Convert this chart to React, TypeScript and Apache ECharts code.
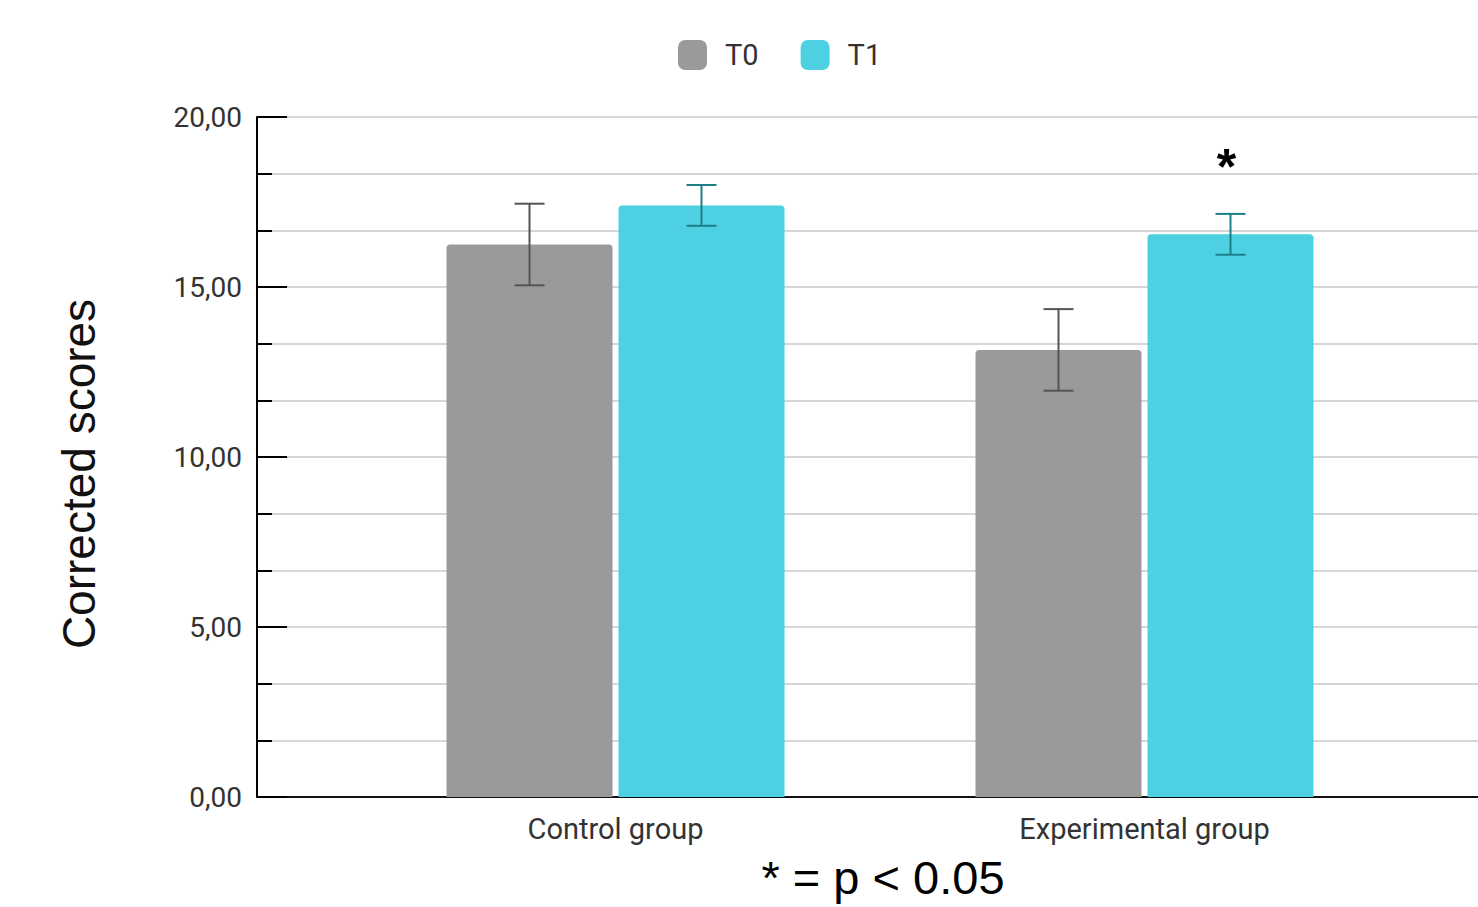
import React, { useEffect, useRef } from "react";
import * as echarts from "echarts";

const categories = ["Control group", "Experimental group"];
const seriesNames = ["T0", "T1"];
const t0Means = [16.25, 13.15];
const t1Means = [17.4, 16.55];
const t0Errors = [1.2, 1.2];
const t1Errors = [0.6, 0.6];
const significant = [false, true];
const yMin = 0;
const yMax = 20;
const yInterval = 5;
const footnote = "* = p < 0.05";
const yTitle = "Corrected scores";

const GRAY = "#9a9a9a";
const CYAN = "#4dd0e1";
const FONT = "Roboto, 'Noto Sans', sans-serif";
const ARIAL = "'Liberation Sans', Arial, sans-serif";
const BAR_W = 166;
const BAR_GAP_PX = 6;

function errorRenderer(offset: number, color: string, sigList: boolean[] | null) {
  return (params: any, api: any) => {
    const idx = api.value(0);
    const mean = api.value(1);
    const err = api.value(2);
    const top = api.coord([idx, mean + err]);
    const bot = api.coord([idx, mean - err]);
    const cx = top[0] + offset;
    const cap = 15;
    const ls = { stroke: color, lineWidth: 2 };
    const children: any[] = [
      { type: "line", shape: { x1: cx, y1: top[1], x2: cx, y2: bot[1] }, style: ls },
      { type: "line", shape: { x1: cx - cap, y1: top[1], x2: cx + cap, y2: top[1] }, style: ls },
      { type: "line", shape: { x1: cx - cap, y1: bot[1], x2: cx + cap, y2: bot[1] }, style: ls },
    ];
    if (sigList && sigList[params.dataIndex]) {
      children.push({
        type: "text",
        style: {
          text: "*",
          x: cx - 4,
          y: top[1] - 47,
          fill: "#000",
          fontSize: 50,
          fontWeight: "bold",
          fontFamily: ARIAL,
          align: "center",
          verticalAlign: "middle",
        },
      });
    }
    return { type: "group", children };
  };
}

export default function App() {
  const ref = useRef<HTMLDivElement>(null);
  useEffect(() => {
    if (!ref.current) return;
    const chart = echarts.init(ref.current, null, { renderer: "svg" });
    const off = BAR_W / 2 + BAR_GAP_PX / 2;
    chart.setOption({
      animation: false,
      backgroundColor: "#fff",
      textStyle: { fontFamily: FONT },
      legend: {
        top: 35,
        left: 673,
        itemWidth: 29,
        itemHeight: 30,
        itemGap: 42,
        data: seriesNames.map((n, i) => ({ name: n, icon: "roundRect", itemStyle: { color: i ? CYAN : GRAY } })),
        textStyle: { fontSize: 29, color: "#333", fontFamily: FONT, padding: [0, 0, 0, 13] },
      },
      grid: [
        { left: 257, right: 0, top: 117, bottom: 110 },
        { left: 351, right: 69, top: 117, bottom: 110 },
      ],
      xAxis: [
        {
          gridIndex: 0,
          type: "value",
          min: 0,
          max: 1,
          axisLine: { show: true, lineStyle: { color: "#111", width: 2 } },
          axisTick: { show: false },
          axisLabel: { show: false },
          splitLine: { show: false },
        },
        {
          gridIndex: 1,
          type: "category",
          data: categories,
          axisLine: { show: false },
          axisTick: { show: false },
          axisLabel: { fontSize: 29, color: "#333", margin: 17, fontFamily: FONT },
        },
      ],
      yAxis: [
        {
          gridIndex: 0,
          type: "value",
          min: yMin,
          max: yMax,
          interval: yInterval,
          axisLine: { show: true, lineStyle: { color: "#000", width: 2 } },
          axisTick: { show: true, inside: true, length: 30, lineStyle: { color: "#000", width: 2 } },
          minorTick: { show: true, splitNumber: 3, length: 15, lineStyle: { color: "#000", width: 2 } },
          splitLine: { show: true, lineStyle: { color: "#d6d6d6", width: 2 } },
          minorSplitLine: { show: true, lineStyle: { color: "#d6d6d6", width: 2 } },
          axisLabel: {
            fontSize: 28,
            color: "#333",
            margin: 15,
            fontFamily: FONT,
            formatter: (v: number) => v.toFixed(2).replace(".", ","),
          },
        },
        {
          gridIndex: 1,
          type: "value",
          min: yMin,
          max: yMax,
          show: false,
          splitLine: { show: false },
        },
      ],
      series: [
        {
          name: seriesNames[0],
          type: "bar",
          xAxisIndex: 1,
          yAxisIndex: 1,
          data: t0Means,
          barWidth: BAR_W,
          barGap: (BAR_GAP_PX / BAR_W) * 100 + "%",
          itemStyle: { color: GRAY, borderRadius: [4, 4, 0, 0] },
        },
        {
          name: seriesNames[1],
          type: "bar",
          xAxisIndex: 1,
          yAxisIndex: 1,
          data: t1Means,
          barWidth: BAR_W,
          barGap: (BAR_GAP_PX / BAR_W) * 100 + "%",
          itemStyle: { color: CYAN, borderRadius: [4, 4, 0, 0] },
        },
        {
          type: "custom",
          xAxisIndex: 1,
          yAxisIndex: 1,
          z: 5,
          clip: false,
          encode: { x: 0, y: 1 },
          data: t0Means.map((m, i) => [i, m, t0Errors[i]]),
          renderItem: errorRenderer(-off, "#555555", null),
        },
        {
          type: "custom",
          xAxisIndex: 1,
          yAxisIndex: 1,
          z: 5,
          clip: false,
          encode: { x: 0, y: 1 },
          data: t1Means.map((m, i) => [i, m, t1Errors[i]]),
          renderItem: errorRenderer(off, "#1f7f89", significant),
        },
      ],
      graphic: [
        {
          type: "text",
          x: 79,
          y: 474,
          rotation: Math.PI / 2,
          style: {
            text: yTitle,
            fontSize: 46,
            fill: "#111",
            fontFamily: ARIAL,
            align: "center",
            verticalAlign: "middle",
          },
        },
        {
          type: "text",
          x: 883,
          y: 877,
          style: {
            text: footnote,
            fontSize: 47,
            fill: "#000",
            fontFamily: ARIAL,
            align: "center",
            verticalAlign: "middle",
          },
        },
      ],
    });
    return () => chart.dispose();
  }, []);
  return (
    <div
      ref={ref}
      style={{ position: "fixed", left: 0, top: 0, width: 1478, height: 907 }}
    />
  );
}
